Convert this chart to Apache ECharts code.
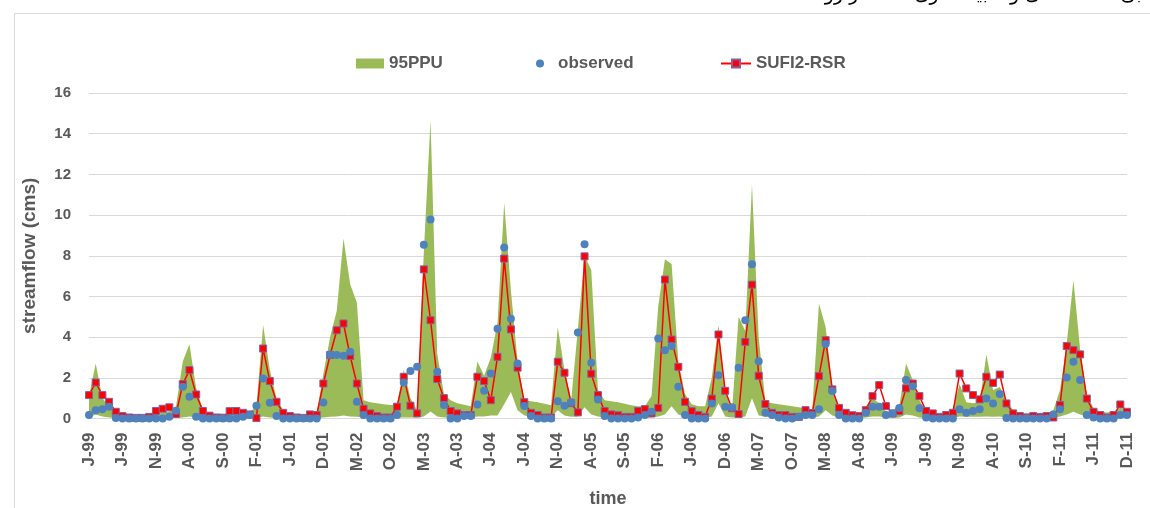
<!DOCTYPE html>
<html>
<head>
<meta charset="utf-8">
<script src="https://cdn.jsdelivr.net/npm/echarts@6/dist/echarts.min.js"></script>
<style>
  html, body { margin: 0; padding: 0; background: #fff; }
  #main { width: 1150px; height: 508px; }
</style>
</head>
<body>
<div id="main"></div>
<script>
// months Jan-1999 .. Dec-2011
var years = ['99', '00', '01', '02', '03', '04', '05', '06', '07', '08', '09', '10', '11'];
var monthInitials = ['J', 'F', 'M', 'A', 'M', 'J', 'J', 'A', 'S', 'O', 'N', 'D'];

var observed = [
    0.17, 0.41, 0.46, 0.58, 0.03, 0, 0, 0, 0, 0, 0, 0,
    0.08, 0.38, 1.56, 1.07, 0.08, 0, 0, 0, 0, 0, 0, 0.08,
    0.17, 0.63, 1.97, 0.78, 0.12, 0, 0, 0, 0, 0, 0, 0.79,
    3.15, 3.12, 3.08, 3.28, 0.82, 0.17, 0, 0, 0, 0, 0.17, 1.77,
    2.33, 2.54, 8.54, 9.78, 2.3, 0.66, 0, 0, 0.12, 0.12, 0.69, 1.36,
    2.21, 4.41, 8.4, 4.9, 2.7, 0.62, 0.12, 0, 0, 0, 0.85, 0.63,
    0.8, 4.23, 8.56, 2.74, 0.94, 0.12, 0, 0, 0, 0, 0.05, 0.17,
    0.33, 3.93, 3.36, 3.56, 1.56, 0.17, 0, 0, 0, 0.74, 2.13, 0.58,
    0.55, 2.49, 4.83, 7.58, 2.82, 0.28, 0.17, 0.05, 0, 0, 0.08, 0.17,
    0.17, 0.45, 3.66, 1.35, 0.17, 0, 0, 0, 0.28, 0.58, 0.58, 0.17,
    0.25, 0.52, 1.89, 1.59, 0.5, 0.05, 0, 0, 0, 0, 0.45, 0.28,
    0.37, 0.45, 0.98, 0.74, 1.2, 0.03, 0, 0, 0, 0, 0, 0,
    0.2, 0.46, 2.02, 2.79, 1.89, 0.17, 0.05, 0, 0, 0, 0.17, 0.17
];

var sufi2 = [
    1.15, 1.77, 1.15, 0.82, 0.33, 0.12, 0.05, 0.03, 0.03, 0.08, 0.37, 0.48,
    0.55, 0.22, 1.69, 2.38, 1.18, 0.37, 0.14, 0.05, 0.04, 0.36, 0.37, 0.28,
    0.2, 0.02, 3.44, 1.84, 0.82, 0.28, 0.12, 0.05, 0.03, 0.2, 0.17, 1.72,
    3.12, 4.34, 4.67, 3.07, 1.72, 0.48, 0.25, 0.12, 0.05, 0.05, 0.58, 2.05,
    0.63, 0.25, 7.33, 4.83, 1.94, 1.0, 0.37, 0.25, 0.17, 0.17, 2.05, 1.84,
    0.9, 3.03, 7.86, 4.38, 2.5, 0.8, 0.28, 0.17, 0.05, 0.05, 2.79, 2.25,
    0.75, 0.3, 7.97, 2.2, 1.15, 0.37, 0.2, 0.16, 0.08, 0.08, 0.37, 0.46,
    0.25, 0.52, 6.83, 3.88, 2.54, 0.82, 0.36, 0.17, 0.08, 0.98, 4.13, 1.36,
    0.5, 0.22, 3.77, 6.58, 2.1, 0.71, 0.28, 0.17, 0.17, 0.08, 0.08, 0.41,
    0.27, 2.08, 3.85, 1.43, 0.52, 0.28, 0.16, 0.12, 0.41, 1.1, 1.64, 0.61,
    0.25, 0.36, 1.48, 1.72, 1.1, 0.37, 0.25, 0.08, 0.17, 0.28, 2.21, 1.48,
    1.15, 0.94, 2.05, 1.75, 2.16, 0.74, 0.25, 0.12, 0.05, 0.12, 0.08, 0.12,
    0.05, 0.66, 3.56, 3.36, 3.15, 0.98, 0.33, 0.17, 0.05, 0.17, 0.69, 0.33
];

// 95PPU band: lower and upper bounds
var ppuLower = [
    0.05, 0.2, 0.1, 0.05, 0.03, 0.02, 0.02, 0.02, 0.02, 0.02, 0.02, 0.02,
    0.02, 0.03, 0.05, 0.1, 0.05, 0.02, 0.02, 0.02, 0.02, 0.02, 0.02, 0.02,
    0.02, 0.03, 0.1, 0.05, 0.03, 0.02, 0.02, 0.02, 0.02, 0.02, 0.02, 0.05,
    0.08, 0.1, 0.15, 0.1, 0.08, 0.05, 0.05, 0.05, 0.05, 0.05, 0.05, 0.05,
    0.05, 0.05, 0.1, 0.35, 0.1, 0.05, 0.05, 0.05, 0.05, 0.05, 0.1, 0.1,
    0.15, 0.15, 0.7, 1.3, 0.4, 0.15, 0.08, 0.05, 0.05, 0.05, 0.4, 0.15,
    0.08, 0.1, 0.55, 0.2, 0.1, 0.05, 0.05, 0.05, 0.05, 0.05, 0.05, 0.05,
    0.05, 0.1, 0.2, 0.6, 0.2, 0.08, 0.05, 0.05, 0.05, 0.1, 0.75, 0.1,
    0.05, 0.05, 0.1, 1.0, 0.15, 0.08, 0.05, 0.05, 0.05, 0.05, 0.05, 0.05,
    0.05, 0.1, 0.4, 0.15, 0.05, 0.03, 0.02, 0.02, 0.05, 0.1, 0.1, 0.05,
    0.03, 0.05, 0.2, 0.15, 0.05, 0.03, 0.02, 0.02, 0.02, 0.03, 0.1, 0.08,
    0.08, 0.08, 0.1, 0.08, 0.1, 0.05, 0.03, 0.02, 0.02, 0.02, 0.02, 0.02,
    0.03, 0.1, 0.2, 0.33, 0.2, 0.08, 0.03, 0.02, 0.02, 0.02, 0.03, 0.03
];

var ppuUpper = [
    1.1, 2.7, 1.0, 0.6, 0.3, 0.2, 0.15, 0.12, 0.12, 0.15, 0.25, 0.3,
    0.35, 0.6, 2.8, 3.65, 1.5, 0.45, 0.2, 0.15, 0.15, 0.25, 0.3, 0.3,
    0.3, 0.6, 4.6, 2.4, 1.0, 0.4, 0.2, 0.15, 0.15, 0.2, 0.3, 2.2,
    4.0, 5.3, 8.85, 6.6, 5.7, 0.9, 0.8, 0.75, 0.7, 0.66, 0.7, 2.4,
    1.0, 0.4, 8.2, 14.66, 3.2, 1.2, 0.9, 0.75, 0.68, 0.6, 2.8, 2.1,
    3.0, 4.7, 10.6, 6.3, 2.8, 0.9, 0.85, 0.8, 0.72, 0.65, 4.5, 2.4,
    0.9, 4.4, 8.0, 7.3, 1.4, 0.9, 0.85, 0.8, 0.72, 0.65, 0.6, 0.6,
    1.1, 5.5, 7.83, 7.6, 2.8, 1.2, 0.7, 0.6, 0.6, 2.0, 4.6, 1.4,
    0.3, 5.0, 4.3, 11.5, 4.0, 0.82, 0.75, 0.7, 0.65, 0.6, 0.55, 0.5,
    0.4, 5.65, 4.5, 1.55, 0.4, 0.25, 0.2, 0.2, 0.6, 1.0, 0.75, 0.35,
    0.2, 0.6, 2.7, 1.9, 0.9, 0.35, 0.2, 0.2, 0.2, 0.5, 1.7, 0.8,
    0.75, 0.8, 3.15, 1.4, 1.55, 0.9, 0.4, 0.25, 0.25, 0.25, 0.25, 0.25,
    0.4, 1.4, 3.7, 6.8, 3.4, 1.2, 0.5, 0.35, 0.3, 0.35, 0.5, 0.4
];

var yTicks = { min: 0, max: 16, interval: 2 };

var months = [];
years.forEach(function (y) {
    monthInitials.forEach(function (m) { months.push(m + '-' + y); });
});
var ppuWidth = ppuUpper.map(function (u, i) { return +(u - ppuLower[i]).toFixed(3); });

var txt = '#595959';
var font = 'Liberation Sans';
var myChart = echarts.init(document.getElementById('main'));

var legendText = { color: txt, fontSize: 17, fontWeight: 'bold', fontFamily: font };

myChart.setOption({
    animation: false,
    backgroundColor: '#fff',
    graphic: [
        {
            type: 'rect',
            shape: { x: 14.5, y: 13.5, width: 1200, height: 600 },
            style: { fill: 'none', stroke: '#d9d9d9', lineWidth: 1 },
            silent: true
        },
        {
            type: 'text',
            right: 0,
            top: -14,
            style: {
                text: 'دبی مشاهده ای و شبیه سازی شده در رودخانه',
                fontSize: 19,
                fill: '#000',
                fontFamily: 'DejaVu Sans'
            },
            silent: true
        }
    ],
    legend: [
        {
            data: ['95PPU'], left: 356, top: 55, padding: 0,
            icon: 'rect', itemWidth: 28, itemHeight: 10,
            textStyle: legendText, selectedMode: false
        },
        {
            data: ['observed'], left: 536, top: 55, padding: 0,
            icon: 'circle', itemWidth: 8, itemHeight: 8,
            textStyle: Object.assign({ padding: [0, 0, 0, 9] }, legendText), selectedMode: false
        },
        {
            data: ['SUFI2-RSR'], left: 720, top: 55, padding: 0,
            itemWidth: 30, itemHeight: 10,
            textStyle: legendText, selectedMode: false
        }
    ],
    grid: { left: 89, right: 23, top: 93, bottom: 89.5, containLabel: false, outerBoundsMode: 'none' },
    xAxis: {
        type: 'category',
        data: months,
        boundaryGap: false,
        name: 'time',
        nameLocation: 'middle',
        nameGap: 72,
        nameTextStyle: { color: txt, fontSize: 18, fontWeight: 'bold', fontFamily: font },
        axisLine: { lineStyle: { color: '#d9d9d9', width: 1 } },
        axisTick: { show: false },
        axisLabel: {
            interval: 4,
            rotate: 90,
            margin: 14,
            color: txt,
            fontSize: 17,
            fontWeight: 'bold',
            fontFamily: font
        },
        splitLine: { show: false }
    },
    yAxis: {
        type: 'value',
        min: yTicks.min,
        max: yTicks.max,
        interval: yTicks.interval,
        name: 'streamflow (cms)',
        nameLocation: 'middle',
        nameGap: 50,
        nameTextStyle: { color: txt, fontSize: 19, fontWeight: 'bold', fontFamily: font },
        axisLine: { show: false },
        axisTick: { show: false },
        axisLabel: { color: txt, fontSize: 15, fontWeight: 'bold', fontFamily: font, margin: 18 },
        splitLine: { lineStyle: { color: '#d9d9d9', width: 1 } }
    },
    series: [
        {
            name: 'lower',
            type: 'line',
            stack: 'ppu',
            data: ppuLower,
            symbol: 'none',
            lineStyle: { width: 0, opacity: 0 },
            silent: true,
            z: 1
        },
        {
            name: '95PPU',
            type: 'line',
            stack: 'ppu',
            data: ppuWidth,
            symbol: 'none',
            lineStyle: { width: 0, opacity: 0 },
            itemStyle: { color: '#9bbb59' },
            areaStyle: { color: '#9bbb59', opacity: 1 },
            silent: true,
            z: 1
        },
        {
            name: 'SUFI2-RSR',
            type: 'line',
            data: sufi2,
            symbol: 'rect',
            symbolSize: 7,
            showAllSymbol: true,
            lineStyle: { color: '#ff0000', width: 1.5 },
            itemStyle: { color: '#ff0000', borderColor: '#8064a2', borderWidth: 1 },
            z: 2
        },
        {
            name: 'observed',
            type: 'scatter',
            data: observed,
            symbol: 'circle',
            symbolSize: 8,
            itemStyle: { color: '#4f81bd', opacity: 1 },
            z: 3
        }
    ]
});
</script>
</body>
</html>
